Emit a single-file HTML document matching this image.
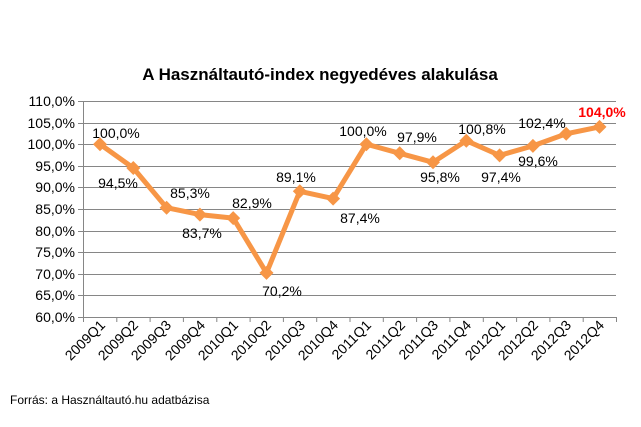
<!DOCTYPE html>
<html><head><meta charset="utf-8"><style>body{margin:0;background:#fff}svg{display:block}text{font-family:"Liberation Sans",sans-serif}</style></head><body>
<svg width="641" height="427" xmlns="http://www.w3.org/2000/svg">
<text x="320" y="80" font-size="17" font-weight="bold" text-anchor="middle">A Használtautó-index negyedéves alakulása</text>
<g stroke="#868686" stroke-width="1">
<line x1="83" y1="101.5" x2="616" y2="101.5"/><line x1="83" y1="123.5" x2="616" y2="123.5"/><line x1="83" y1="144.5" x2="616" y2="144.5"/><line x1="83" y1="166.5" x2="616" y2="166.5"/><line x1="83" y1="187.5" x2="616" y2="187.5"/><line x1="83" y1="209.5" x2="616" y2="209.5"/><line x1="83" y1="231.5" x2="616" y2="231.5"/><line x1="83" y1="252.5" x2="616" y2="252.5"/><line x1="83" y1="274.5" x2="616" y2="274.5"/><line x1="83" y1="295.5" x2="616" y2="295.5"/><line x1="83" y1="317.5" x2="616" y2="317.5"/>
<line x1="83.5" y1="101" x2="83.5" y2="317"/>
<line x1="78" y1="101.5" x2="83" y2="101.5"/><line x1="78" y1="123.5" x2="83" y2="123.5"/><line x1="78" y1="144.5" x2="83" y2="144.5"/><line x1="78" y1="166.5" x2="83" y2="166.5"/><line x1="78" y1="187.5" x2="83" y2="187.5"/><line x1="78" y1="209.5" x2="83" y2="209.5"/><line x1="78" y1="231.5" x2="83" y2="231.5"/><line x1="78" y1="252.5" x2="83" y2="252.5"/><line x1="78" y1="274.5" x2="83" y2="274.5"/><line x1="78" y1="295.5" x2="83" y2="295.5"/><line x1="78" y1="317.5" x2="83" y2="317.5"/>
</g>
<g stroke="#868686"><path d="M83.5 317v5M116.8 317v5M150.1 317v5M183.4 317v5M216.8 317v5M250.1 317v5M283.4 317v5M316.7 317v5M350 317v5M383.3 317v5M416.6 317v5M449.9 317v5M483.3 317v5M516.6 317v5M549.9 317v5M583.2 317v5M616.5 317v5"/></g>
<g font-size="14" text-anchor="end">
<text x="75" y="106">110,0%</text><text x="75" y="128">105,0%</text><text x="75" y="149">100,0%</text><text x="75" y="171">95,0%</text><text x="75" y="192">90,0%</text><text x="75" y="214">85,0%</text><text x="75" y="236">80,0%</text><text x="75" y="257">75,0%</text><text x="75" y="279">70,0%</text><text x="75" y="300">65,0%</text><text x="75" y="322">60,0%</text>
</g>
<g font-size="14" text-anchor="end">
<text transform="translate(106,326) rotate(-45)">2009Q1</text><text transform="translate(139,326) rotate(-45)">2009Q2</text><text transform="translate(172,326) rotate(-45)">2009Q3</text><text transform="translate(206,326) rotate(-45)">2009Q4</text><text transform="translate(239,326) rotate(-45)">2010Q1</text><text transform="translate(272,326) rotate(-45)">2010Q2</text><text transform="translate(306,326) rotate(-45)">2010Q3</text><text transform="translate(339,326) rotate(-45)">2010Q4</text><text transform="translate(372,326) rotate(-45)">2011Q1</text><text transform="translate(406,326) rotate(-45)">2011Q2</text><text transform="translate(439,326) rotate(-45)">2011Q3</text><text transform="translate(472,326) rotate(-45)">2011Q4</text><text transform="translate(506,326) rotate(-45)">2012Q1</text><text transform="translate(539,326) rotate(-45)">2012Q2</text><text transform="translate(572,326) rotate(-45)">2012Q3</text><text transform="translate(605,326) rotate(-45)">2012Q4</text>
</g>
<polyline fill="none" stroke="#F79646" stroke-width="5" stroke-linejoin="round" points="100,144.2 133.3,168 166.6,207.7 199.9,214.6 233.2,218.1 266.5,272.9 299.8,191.3 333.1,198.6 366.4,144.2 399.7,153.3 433,162.3 466.3,140.7 499.6,155.4 532.9,145.9 566.2,133.8 599.5,126.9"/>
<g fill="#F79646">
<path d="M100 137.2l7 7-7 7-7-7z"/><path d="M133.3 161l7 7-7 7-7-7z"/><path d="M166.6 200.7l7 7-7 7-7-7z"/><path d="M199.9 207.6l7 7-7 7-7-7z"/><path d="M233.2 211.1l7 7-7 7-7-7z"/><path d="M266.5 265.9l7 7-7 7-7-7z"/><path d="M299.8 184.3l7 7-7 7-7-7z"/><path d="M333.1 191.6l7 7-7 7-7-7z"/><path d="M366.4 137.2l7 7-7 7-7-7z"/><path d="M399.7 146.3l7 7-7 7-7-7z"/><path d="M433 155.3l7 7-7 7-7-7z"/><path d="M466.3 133.7l7 7-7 7-7-7z"/><path d="M499.6 148.4l7 7-7 7-7-7z"/><path d="M532.9 138.9l7 7-7 7-7-7z"/><path d="M566.2 126.8l7 7-7 7-7-7z"/><path d="M599.5 119.9l7 7-7 7-7-7z"/>
</g>
<g font-size="14" text-anchor="middle">
<text x="116" y="138">100,0%</text><text x="118" y="188">94,5%</text><text x="190" y="198">85,3%</text><text x="202" y="238">83,7%</text><text x="252" y="208">82,9%</text><text x="282" y="296">70,2%</text><text x="296" y="182">89,1%</text><text x="360" y="223">87,4%</text><text x="363" y="136">100,0%</text><text x="417" y="142">97,9%</text><text x="440" y="182">95,8%</text><text x="482" y="134">100,8%</text><text x="501" y="182">97,4%</text><text x="542" y="128">102,4%</text><text x="538" y="166">99,6%</text>
<text x="602" y="117" fill="#FF0000" font-weight="bold">104,0%</text>
</g>
<text x="10" y="404" font-size="12">Forrás: a Használtautó.hu adatbázisa</text>
</svg>
</body></html>
